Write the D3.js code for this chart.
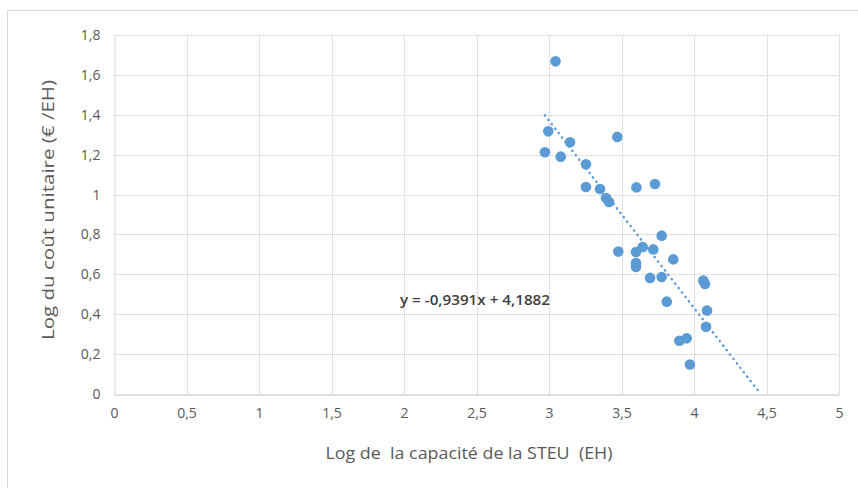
<!DOCTYPE html>
<html>
<head>
<meta charset="utf-8">
<script src="https://cdn.jsdelivr.net/npm/d3@7/dist/d3.min.js"></script>
<style>
  body { margin: 0; background: #fff; }
  text { font-family: "Open Sans", "Liberation Sans", sans-serif; }
</style>
</head>
<body>
<script>
// log capacity (EH) and log unit cost (€/EH)
const logCapacity = [3.045, 2.995, 3.145, 2.972, 3.081, 3.255, 3.471, 3.255, 3.352, 3.393, 3.414,
  3.603, 3.731, 3.777, 3.478, 3.600, 3.646, 3.719, 3.857, 3.600, 3.600, 3.697, 3.777,
  4.064, 4.076, 3.812, 4.090, 4.083, 3.899, 3.950, 3.972]
const logCost = [1.668, 1.317, 1.262, 1.212, 1.190, 1.152, 1.289, 1.038, 1.028, 0.983, 0.963,
  1.036, 1.053, 0.794, 0.714, 0.712, 0.737, 0.725, 0.675, 0.657, 0.637, 0.582, 0.587,
  0.569, 0.552, 0.463, 0.419, 0.337, 0.267, 0.279, 0.148]
const xTicks = [0, 0.5, 1, 1.5, 2, 2.5, 3, 3.5, 4, 4.5, 5]
const yTicks = [0, 0.2, 0.4, 0.6, 0.8, 1, 1.2, 1.4, 1.6, 1.8]
const slope = -0.9391
const intercept = 4.1882

const W = 858, H = 488
const fmt = d => String(d).replace('.', ',')
const blue = '#5B9BD5'

const svg = d3.select('body').append('svg')
  .attr('width', W).attr('height', H)

// chart frame
svg.append('rect')
  .attr('x', 7.5).attr('y', 10.5)
  .attr('width', W).attr('height', H)
  .attr('fill', 'none').attr('stroke', '#D9D9D9')

const xScale = d3.scaleLinear().domain([0, 5]).range([114, 839])
const yScale = d3.scaleLinear().domain([0, 1.8]).range([394, 35])

// gridlines
const grid = svg.append('g')
grid.selectAll('.vg').data(xTicks.slice(1)).enter().append('line')
  .attr('x1', d => Math.round(xScale(d)) + 0.5).attr('x2', d => Math.round(xScale(d)) + 0.5)
  .attr('y1', yScale(1.8)).attr('y2', yScale(0))
  .attr('stroke', '#D9D9D9').attr('stroke-dasharray', '3,1')
grid.selectAll('.hg').data(yTicks.slice(1)).enter().append('line')
  .attr('y1', d => Math.round(yScale(d)) + 0.5).attr('y2', d => Math.round(yScale(d)) + 0.5)
  .attr('x1', xScale(0)).attr('x2', xScale(5))
  .attr('stroke', '#D9D9D9').attr('stroke-dasharray', '3,1')

// axes
const xAxis = d3.axisBottom(xScale).tickValues(xTicks).tickFormat(fmt).tickSize(0).tickPadding(14)
const gx = svg.append('g')
  .attr('transform', `translate(0,${Math.round(yScale(0)) + 0.5})`)
  .call(xAxis)
gx.select('.domain').attr('stroke', '#BFBFBF')
gx.selectAll('text').attr('fill', '#595959').attr('font-size', 14)

const yAxis = d3.axisLeft(yScale).tickValues(yTicks).tickFormat(fmt).tickSize(0).tickPadding(14)
const gy = svg.append('g')
  .attr('transform', `translate(${Math.round(xScale(0)) + 0.5},0)`)
  .call(yAxis)
gy.select('.domain').attr('stroke', '#D9D9D9')
gy.selectAll('text').attr('fill', '#595959').attr('font-size', 14)

// trendline, clipped at y = 0
const x0 = d3.min(logCapacity)
const x1 = -intercept / slope
svg.append('line')
  .attr('x1', xScale(x0)).attr('y1', yScale(slope * x0 + intercept))
  .attr('x2', xScale(x1)).attr('y2', yScale(slope * x1 + intercept))
  .attr('stroke', blue).attr('stroke-width', 2.5)
  .attr('stroke-dasharray', '0.1,5.5').attr('stroke-linecap', 'round')

// points
const data = logCapacity.map((x, i) => ({x, y: logCost[i]}))
svg.append('g').selectAll('circle')
  .data(data).enter().append('circle')
  .attr('cx', d => xScale(d.x))
  .attr('cy', d => yScale(d.y))
  .attr('r', 5.3)
  .attr('fill', blue)

// equation label
svg.append('text')
  .attr('x', 400).attr('y', 305)
  .attr('fill', '#404040').attr('font-size', 14.5).attr('font-weight', 600)
  .attr('textLength', 150).attr('lengthAdjust', 'spacingAndGlyphs')
  .text('y = -0,9391x + 4,1882')

// axis titles
svg.append('text')
  .attr('x', 469).attr('y', 459)
  .attr('text-anchor', 'middle')
  .attr('fill', '#595959').attr('font-size', 16)
  .attr('textLength', 287).attr('lengthAdjust', 'spacingAndGlyphs')
  .style('white-space', 'pre')
  .text('Log de  la capacité de la STEU  (EH)')

svg.append('text')
  .attr('transform', 'translate(54,210) rotate(-90)')
  .attr('text-anchor', 'middle')
  .attr('fill', '#595959').attr('font-size', 16)
  .attr('textLength', 260).attr('lengthAdjust', 'spacingAndGlyphs')
  .text('Log du coût unitaire (€ /EH)')
</script>
</body>
</html>
